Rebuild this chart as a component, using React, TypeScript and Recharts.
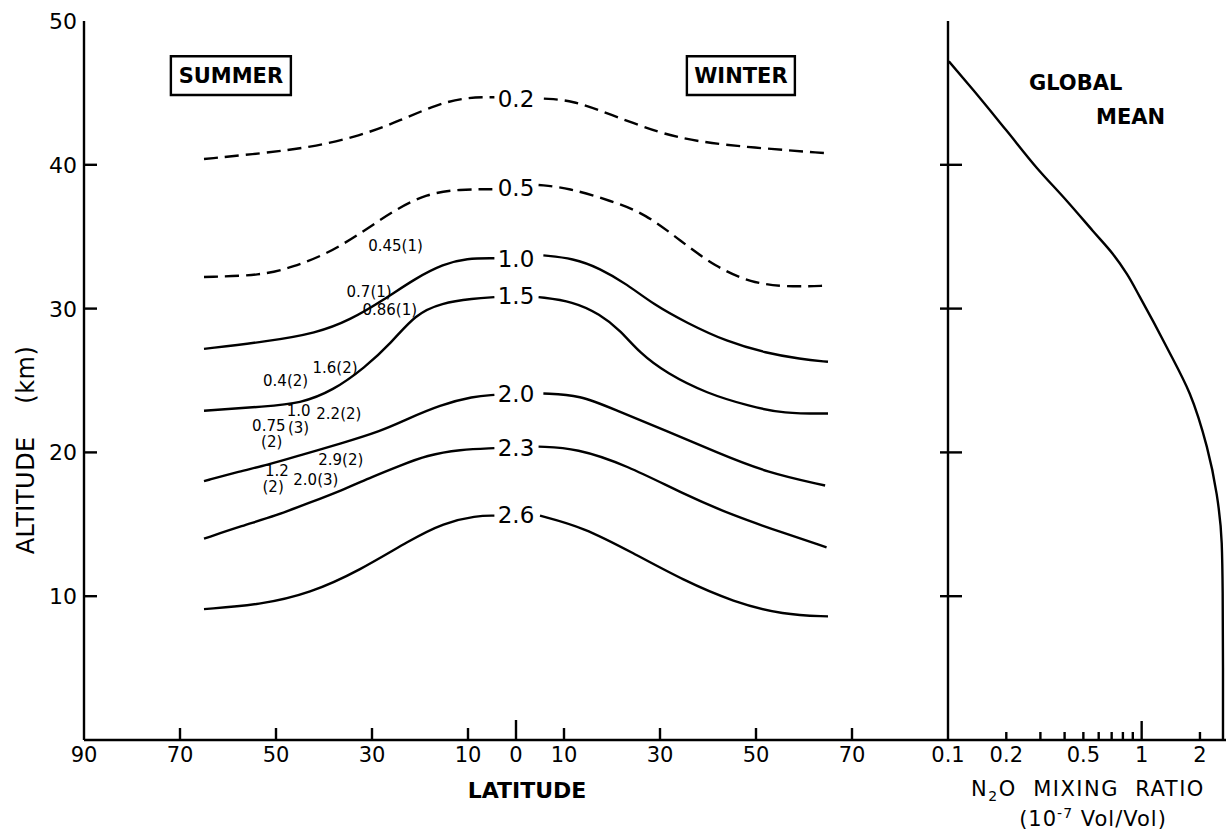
import React from 'react';
import { ComposedChart, Line, XAxis, YAxis, Scatter, ReferenceArea } from 'recharts';

const FONT = '"DejaVu Sans", Verdana, sans-serif';
const INK = '#000';

// ---- axis ticks ----
const latTicks = [-90, -70, -50, -30, -10, 0, 10, 30, 50, 70];
const latTopTicks = [-70, -50, -30, -10, 0, 10, 30, 50, 70];
const altTicks = [10, 20, 30, 40, 50];
const altInnerTicks = [10, 20, 30, 40];
const ratioTicks = [0.1, 0.2, 0.3, 0.4, 0.5, 0.6, 0.7, 0.8, 0.9, 1, 2];
const ratioLabels = [0.1, 0.2, 0.5, 1, 2];

// ---- contours: [latitude (neg = summer, pos = winter), altitude km] ----
const c02Summer = [[-65, 40.4], [-53, 40.8], [-43, 41.2], [-32.5, 42.0], [-24, 43.1], [-16.5, 44.2], [-10.3, 44.7], [-4.5, 44.7]];
const c02Winter = [[5.8, 44.6], [11.6, 44.5], [19.7, 43.5], [29.9, 42.2], [38, 41.6], [48.9, 41.2], [65, 40.8]];
const c05Summer = [[-65, 32.2], [-53, 32.3], [-46.4, 32.9], [-39.4, 33.8], [-32.5, 35.2], [-25.6, 36.8], [-18.6, 38.0], [-11.7, 38.3], [-4.5, 38.3]];
const c05Winter = [[4.7, 38.6], [10.9, 38.4], [19.7, 37.5], [27, 36.6], [34.3, 34.7], [41.6, 32.9], [48.9, 31.8], [56.2, 31.5], [65, 31.6]];
const c10Summer = [[-65, 27.2], [-52, 27.7], [-41.5, 28.3], [-34.6, 29.2], [-27.6, 30.6], [-21, 32.1], [-15.1, 33.1], [-10.3, 33.5], [-4.5, 33.5]];
const c10Winter = [[5.7, 33.7], [11.9, 33.5], [17.5, 32.8], [23.1, 31.7], [28.6, 30.3], [35.6, 29.0], [43.9, 27.7], [52.2, 26.9], [59.2, 26.5], [65, 26.3]];
const c15Summer = [[-65, 22.9], [-52, 23.2], [-45, 23.4], [-38.1, 24.3], [-31.5, 25.9], [-26, 27.6], [-21, 29.6], [-15.5, 30.4], [-8.9, 30.7], [-4.5, 30.8]];
const c15Winter = [[4.7, 30.8], [11.9, 30.5], [17.5, 29.6], [21.7, 28.5], [25.8, 26.9], [31.4, 25.5], [39.7, 24.1], [48.8, 23.2], [55.7, 22.7], [65, 22.7]];
const c20Summer = [[-65, 18.0], [-57.5, 18.7], [-52, 19.1], [-44, 19.9], [-36.7, 20.6], [-28, 21.5], [-22.8, 22.3], [-15.8, 23.3], [-8.9, 23.9], [-4.5, 24.0]];
const c20Winter = [[5.7, 24.1], [13.3, 24.0], [21, 22.9], [31.4, 21.5], [41.8, 20.0], [52.2, 18.6], [64.4, 17.7]];
const c23Summer = [[-65, 14.0], [-57, 14.9], [-50, 15.6], [-43, 16.5], [-36, 17.4], [-30, 18.3], [-24, 19.1], [-18.6, 19.8], [-11.7, 20.2], [-4.5, 20.3]];
const c23Winter = [[4.7, 20.4], [12.6, 20.3], [23.1, 19.1], [34.9, 17.1], [45.3, 15.6], [55.7, 14.4], [64.7, 13.4]];
const c26Summer = [[-65, 9.1], [-53.3, 9.4], [-42.9, 10.2], [-32.5, 11.8], [-22.1, 13.9], [-15.1, 15.1], [-8.2, 15.6], [-4.5, 15.6]];
const c26Winter = [[5, 15.6], [14, 14.8], [24.4, 13.0], [34.9, 11.1], [45.3, 9.6], [55.7, 8.7], [65, 8.6]];

const contourValues = [0.2, 0.5, 1.0, 1.5, 2.0, 2.3, 2.6];
const contourSummer = [c02Summer, c05Summer, c10Summer, c15Summer, c20Summer, c23Summer, c26Summer];
const contourWinter = [c02Winter, c05Winter, c10Winter, c15Winter, c20Winter, c23Winter, c26Winter];
const contourLabelAlt = [44.6, 38.4, 33.5, 30.9, 24.1, 20.3, 15.7];

// ---- observation notes: text, latitude, altitude ----
const noteTexts = ['0.45(1)', '0.7(1)', '0.86(1)', '0.4(2)', '1.6(2)', '1.0', '2.2(2)', '0.75', '(3)', '(2)', '2.9(2)', '1.2', '(2)', '2.0(3)'];
const noteLats = [-25.1, -30.6, -26.3, -48.0, -37.7, -45.3, -36.9, -51.5, -45.3, -50.9, -36.5, -49.8, -50.6, -41.7];
const noteAlts = [34.4, 31.2, 29.9, 25.0, 25.9, 22.9, 22.7, 21.85, 21.7, 20.75, 19.5, 18.7, 17.6, 18.1];

// ---- global mean profile ----
const profileAlt = [47.2, 45.2, 42.4, 39.8, 37.5, 35.4, 33.8, 32.4, 30.8, 27.3, 24.1, 20.4, 17.1, 13.7, 10.2, 5, 0];
const profileRatio = [0.101, 0.135, 0.2, 0.287, 0.41, 0.56, 0.71, 0.84, 0.98, 1.35, 1.77, 2.17, 2.44, 2.59, 2.62, 2.63, 2.63];

// ---- box annotations ----
const seasonNames = ['SUMMER', 'WINTER'];
const seasonLat1 = [-71.9, 35.6];
const seasonLat2 = [-46.9, 58.1];
const seasonAlt1 = [44.85, 44.85];
const seasonAlt2 = [47.55, 47.55];

const panelNotes = ['GLOBAL', 'MEAN'];
const panelNoteRatio = [0.262, 0.581];
const panelNoteAlt = [45.7, 43.35];

const toPts = (a: number[][]) => a.map(([lat, alt]) => ({ lat, alt }));
const contourLabels = contourValues.map((v, i) => ({ lat: 0, alt: contourLabelAlt[i], text: v.toFixed(1) }));
const notes = noteTexts.map((t, i) => ({ lat: noteLats[i], alt: noteAlts[i], text: t }));
const profile = profileAlt.map((a, i) => ({ alt: a, v: profileRatio[i] }));
const panelTexts = panelNotes.map((t, i) => ({ v: panelNoteRatio[i], alt: panelNoteAlt[i], text: t }));

const SW = 2.4;

const BottomLatTick = (props: any) => {
  const { x, y, payload } = props;
  const v = payload.value as number;
  const len = v === -90 ? 0 : v === 0 ? 20 : 12;
  return (
    <g>
      {len > 0 && <line x1={x} y1={y} x2={x} y2={y - len} stroke={INK} strokeWidth={SW} />}
      <text x={x} y={y + 22} textAnchor="middle" fontFamily={FONT} fontSize={21} fill={INK}>{Math.abs(v)}</text>
    </g>
  );
};

const TopLatTick = (props: any) => {
  const { x, y } = props;
  return <line x1={x} y1={y} x2={x} y2={y + 13} stroke={INK} strokeWidth={SW} />;
};

const AltTick = (props: any) => {
  const { x, y, payload } = props;
  const v = payload.value as number;
  return (
    <g>
      {v !== 50 && <line x1={x} y1={y} x2={x + 13} y2={y} stroke={INK} strokeWidth={SW} />}
      <text x={x - 7} y={y} dy="0.36em" textAnchor="end" fontFamily={FONT} fontSize={22} fill={INK}>{v}</text>
    </g>
  );
};

const DividerTick = (props: any) => {
  const { x, y } = props;
  return <line x1={x - 8} y1={y} x2={x + 14} y2={y} stroke={INK} strokeWidth={SW} />;
};

const RightEdgeTick = (props: any) => {
  const { x, y } = props;
  return <line x1={x - 13} y1={y} x2={x} y2={y} stroke={INK} strokeWidth={SW} />;
};

const RatioBottomTick = (props: any) => {
  const { x, y, payload } = props;
  const v = payload.value as number;
  const len = v === 0.1 ? 0 : v === 1 ? 19 : 8;
  const show = ratioLabels.indexOf(v) >= 0;
  return (
    <g>
      {len > 0 && <line x1={x} y1={y} x2={x} y2={y - len} stroke={INK} strokeWidth={SW} />}
      {show && (
        <text x={x} y={y + 22} textAnchor="middle" fontFamily={FONT} fontSize={21} fill={INK}>{String(v)}</text>
      )}
    </g>
  );
};

const RatioTopTick = (props: any) => {
  const { x, y, payload } = props;
  const v = payload.value as number;
  if (v === 0.1) return <g />;
  const len = v === 1 ? 18 : 9;
  return <line x1={x} y1={y} x2={x} y2={y + len} stroke={INK} strokeWidth={SW} />;
};

const LatitudeTitle = (props: any) => {
  const vb = props.viewBox || { x: 84, y: 740, width: 864 };
  return (
    <text x={vb.x + vb.width / 2 + 11} y={vb.y + 58} textAnchor="middle" fontFamily={FONT} fontWeight="bold" fontSize={22} fill={INK}>
      LATITUDE
    </text>
  );
};

const AltitudeTitle = (props: any) => {
  const vb = props.viewBox || { x: 0, y: 21, width: 84, height: 719 };
  const cx = vb.x + 25;
  const cy = vb.y + 429;
  return (
    <text x={cx} y={cy} dy="0.36em" transform={`rotate(-90 ${cx} ${cy})`} textAnchor="middle" fontFamily={FONT} fontSize={24} letterSpacing={0.5} fill={INK}>
      {'ALTITUDE\u00A0\u00A0\u00A0\u00A0(km)'}
    </text>
  );
};

const RatioTitle = (props: any) => {
  const vb = props.viewBox || { x: 48, y: 740, width: 288 };
  const cx = vb.x + 140;
  return (
    <g>
      <text x={cx} y={vb.y + 56} textAnchor="middle" fontFamily={FONT} fontSize={21} letterSpacing={1.5} fill={INK}>
        <tspan>N</tspan>
        <tspan fontSize={14} dy={5}>2</tspan>
        <tspan dy={-5}>{'O\u00A0\u00A0MIXING\u00A0\u00A0RATIO'}</tspan>
      </text>
      <text x={cx + 5} y={vb.y + 86} textAnchor="middle" fontFamily={FONT} fontSize={21} letterSpacing={1} fill={INK}>
        <tspan>(10</tspan>
        <tspan fontSize={14} dy={-8}>-7</tspan>
        <tspan dy={8}>{'\u00A0Vol/Vol)'}</tspan>
      </text>
    </g>
  );
};

const BoxText = (props: any) => {
  const { viewBox, text } = props;
  if (!viewBox) return null;
  return (
    <text x={viewBox.x + viewBox.width / 2} y={viewBox.y + viewBox.height / 2} dy="0.36em" textAnchor="middle" fontFamily={FONT} fontWeight="bold" fontSize={21} fill={INK}>
      {text}
    </text>
  );
};

const ContourLabelShape = (props: any) => {
  const { cx, cy, payload } = props;
  return (
    <text x={cx} y={cy} dy="0.36em" textAnchor="middle" fontFamily={FONT} fontSize={23} fill={INK}>{payload.text}</text>
  );
};

const NoteShape = (props: any) => {
  const { cx, cy, payload } = props;
  return (
    <text x={cx} y={cy} dy="0.36em" textAnchor="middle" fontFamily={FONT} fontSize={15} fill={INK}>{payload.text}</text>
  );
};

const PanelTextShape = (props: any) => {
  const { cx, cy, payload } = props;
  return (
    <text x={cx} y={cy} dy="0.36em" textAnchor="start" fontFamily={FONT} fontWeight="bold" fontSize={21} fill={INK}>{payload.text}</text>
  );
};

export default function App() {
  const axisLine = { stroke: INK, strokeWidth: SW };
  return (
    <div style={{ position: 'absolute', left: 0, top: 0, width: 1226, height: 831, overflow: 'hidden', background: '#fff' }}>
      <div style={{ position: 'absolute', left: 0, top: 0 }}>
        <ComposedChart width={960} height={831} margin={{ top: 21, right: 12, bottom: 0, left: 0 }}>
          <XAxis
            xAxisId={0}
            dataKey="lat"
            type="number"
            domain={[-90, 90]}
            allowDataOverflow
            ticks={latTicks}
            interval={0}
            height={91}
            tickSize={0}
            tickMargin={0}
            axisLine={axisLine}
            tickLine={false}
            tick={<BottomLatTick />}
            label={<LatitudeTitle />}
          />
          <XAxis
            xAxisId="top"
            orientation="top"
            type="number"
            domain={[-90, 90]}
            allowDataOverflow
            ticks={latTopTicks}
            interval={0}
            height={0}
            tickSize={0}
            tickMargin={0}
            axisLine={axisLine}
            tickLine={false}
            tick={<TopLatTick />}
          />
          <YAxis
            yAxisId={0}
            dataKey="alt"
            type="number"
            domain={[0, 50]}
            allowDataOverflow
            ticks={altTicks}
            interval={0}
            width={84}
            tickSize={0}
            tickMargin={0}
            axisLine={axisLine}
            tickLine={false}
            tick={<AltTick />}
            label={<AltitudeTitle />}
          />
          {seasonNames.map((name, i) => (
            <ReferenceArea
              key={name}
              x1={seasonLat1[i]}
              x2={seasonLat2[i]}
              y1={seasonAlt1[i]}
              y2={seasonAlt2[i]}
              stroke={INK}
              strokeWidth={SW}
              fill="#fff"
              fillOpacity={0}
              ifOverflow="visible"
              label={<BoxText text={name} />}
            />
          ))}
          {contourValues.map((v, i) => (
            <Line
              key={'s' + v}
              data={toPts(contourSummer[i])}
              dataKey="alt"
              type="basis"
              stroke={INK}
              strokeWidth={SW}
              strokeDasharray={v < 1 ? '14 7' : undefined}
              dot={false}
              activeDot={false}
              isAnimationActive={false}
            />
          ))}
          {contourValues.map((v, i) => (
            <Line
              key={'w' + v}
              data={toPts(contourWinter[i])}
              dataKey="alt"
              type="basis"
              stroke={INK}
              strokeWidth={SW}
              strokeDasharray={v < 1 ? '14 7' : undefined}
              dot={false}
              activeDot={false}
              isAnimationActive={false}
            />
          ))}
          <Scatter data={contourLabels} dataKey="alt" shape={<ContourLabelShape />} isAnimationActive={false} />
          <Scatter data={notes} dataKey="alt" shape={<NoteShape />} isAnimationActive={false} />
        </ComposedChart>
      </div>
      <div style={{ position: 'absolute', left: 900, top: 0 }}>
        <ComposedChart width={336} height={831} margin={{ top: 21, right: 0, bottom: 0, left: 0 }}>
          <XAxis
            xAxisId={0}
            dataKey="v"
            type="number"
            scale="log"
            domain={[0.1, 3.07]}
            allowDataOverflow
            ticks={ratioTicks}
            interval={0}
            height={91}
            tickSize={0}
            tickMargin={0}
            axisLine={axisLine}
            tickLine={false}
            tick={<RatioBottomTick />}
            label={<RatioTitle />}
          />
          <XAxis
            xAxisId="top"
            orientation="top"
            type="number"
            scale="log"
            domain={[0.1, 3.07]}
            allowDataOverflow
            ticks={ratioTicks}
            interval={0}
            height={0}
            tickSize={0}
            tickMargin={0}
            axisLine={axisLine}
            tickLine={false}
            tick={<RatioTopTick />}
          />
          <YAxis
            yAxisId={0}
            dataKey="alt"
            type="number"
            domain={[0, 50]}
            allowDataOverflow
            ticks={altInnerTicks}
            interval={0}
            width={48}
            tickSize={0}
            tickMargin={0}
            axisLine={axisLine}
            tickLine={false}
            tick={<DividerTick />}
          />
          <YAxis
            yAxisId="r"
            orientation="right"
            type="number"
            domain={[0, 50]}
            allowDataOverflow
            ticks={altInnerTicks}
            interval={0}
            width={0}
            tickSize={0}
            tickMargin={0}
            axisLine={axisLine}
            tickLine={false}
            tick={<RightEdgeTick />}
          />
          <Line
            data={profile}
            dataKey="alt"
            type="monotoneY"
            stroke={INK}
            strokeWidth={SW}
            dot={false}
            activeDot={false}
            isAnimationActive={false}
          />
          <Scatter data={panelTexts} dataKey="alt" shape={<PanelTextShape />} isAnimationActive={false} />
        </ComposedChart>
      </div>
    </div>
  );
}
